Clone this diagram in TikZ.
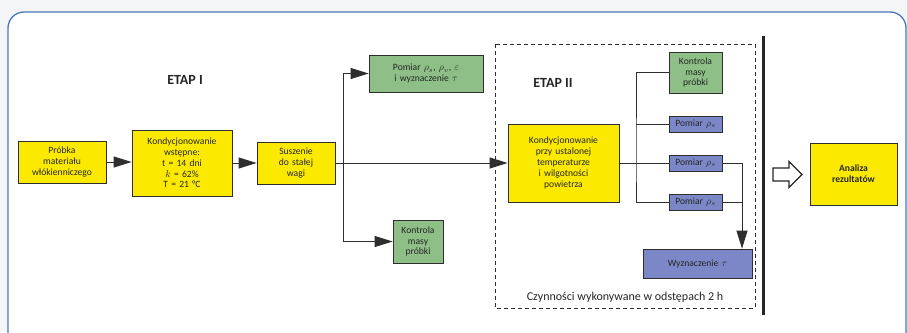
\documentclass[tikz,border=0pt]{standalone}
\usepackage{fontspec}
\setmainfont{Carlito}
\usetikzlibrary{arrows.meta}
\definecolor{ybox}{HTML}{FBEA00}
\definecolor{gbox}{HTML}{8DBF87}
\definecolor{bbox}{HTML}{7C87C8}
\definecolor{frameblue}{HTML}{4A78BC}
\definecolor{bggray}{HTML}{F3F5F6}
\definecolor{ln}{HTML}{2E2E2E}
\tikzset{
  box/.style={draw=ln, line width=0.8pt, inner sep=0pt, align=center, text=black!85,
    font=\fontsize{9.6}{10.8}\selectfont},
  ybx/.style={box, fill=ybox},
  gbx/.style={box, fill=gbox},
  bbx/.style={box, fill=bbox},
  conn/.style={draw=ln, line width=0.9pt},
  arr/.style={conn, -{Triangle[length=18pt,width=11pt]}},
  etap/.style={font=\bfseries\fontsize{14}{16}\selectfont, text=black!85},
}
\begin{document}
\begin{tikzpicture}[x=1pt,y=-1pt]
\useasboundingbox (0,0) rectangle (907,332);
\fill[bggray] (0,0) rectangle (907,332);
\draw[frameblue, line width=1.3pt, fill=white, rounded corners=16pt] (8,12) rectangle (906,350);

% dashed stage II frame and thick separator
\draw[ln, dashed, dash pattern=on 4pt off 3pt, line width=0.9pt] (495,44) rectangle (755,308);
\draw[black!85, line width=2.6pt] (763.5,36) -- (763.5,315);

% labels
\node[etap] (e1) at (185,80) {ETAP I};
\node[etap] (e2) at (553,83) {ETAP II};
\node[font=\fontsize{12}{14}\selectfont, text=black!85] (cz) at (625,297) {Czynności wykonywane w odstępach 2 h};

% stage I
\node[ybx, minimum width=88pt, minimum height=42pt, text width=86pt] (p1) at (62,162) {Próbka\\materiału\\włókienniczego};
\node[ybx, minimum width=100pt, minimum height=66pt, text width=98pt] (k1) at (182,163) {Kondycjonowanie\\wstępne:\\t = 14 dni\\$k$ = 62\%\\T = 21 °C};
\node[ybx, minimum width=78pt, minimum height=42pt, text width=76pt] (s1) at (296,163) {Suszenie\\do stałej\\wagi};
\node[gbx, minimum width=114pt, minimum height=37pt, text width=112pt] (g1) at (426,73.5) {Pomiar $\rho_s$, $\rho_v$, $\varepsilon$\\i wyznaczenie $\tau$};
\node[gbx, minimum width=50pt, minimum height=43pt, text width=48pt] (g2) at (418,241.5) {Kontrola\\masy\\próbki};

% stage II
\node[ybx, minimum width=111pt, minimum height=78pt, text width=109pt] (y2) at (563.5,163) {Kondycjonowanie\\przy ustalonej\\temperaturze\\i wilgotności\\powietrza};
\node[gbx, minimum width=53pt, minimum height=41pt, text width=51pt] (g3) at (695.5,72.5) {Kontrola\\masy\\próbki};
\node[bbx, minimum width=53pt, minimum height=16pt, text width=51pt] (b1) at (695.5,124) {Pomiar $\rho_s$};
\node[bbx, minimum width=53pt, minimum height=16pt, text width=51pt] (b2) at (695.5,163) {Pomiar $\rho_s$};
\node[bbx, minimum width=53pt, minimum height=16pt, text width=51pt] (b3) at (695.5,202) {Pomiar $\rho_s$};
\node[bbx, minimum width=109pt, minimum height=29pt, text width=107pt] (w) at (697.5,263.5) {Wyznaczenie $\tau$};

\node[ybx, minimum width=87pt, minimum height=62pt, text width=85pt, font=\bfseries\fontsize{9.6}{11}\selectfont] (a) at (853.5,174) {Analiza\\rezultatów};

% connectors stage I
\draw[arr] (p1.east) -- (k1.west |- p1.east);
\draw[arr] (k1.east) -- (s1.west);
\coordinate (br1) at (343,163);
\draw[arr] (s1.east) -- (y2.west);
\draw[arr] (br1) |- (g1.west);
\draw[arr] (br1) |- (g2.west);

% connectors stage II
\coordinate (br2) at (636,163);
\draw[conn] (y2.east) -- (b2.west);
\draw[conn] (g3.west) -| (br2) |- (b3.west);
\draw[conn] (br2 |- b1.west) -- (b1.west);
\coordinate (rj) at (742,163);
\draw[conn] (b2.east) -- (rj);
\draw[conn] (b3.east) -- (rj |- b3.east);
\draw[arr] (rj) -- (rj |- w.north);

% hollow block arrow
\draw[black!85, line width=1.2pt, fill=white, line join=miter]
  (773,168) -- (789,168) -- (789,161.5) -- (802,174.5) -- (789,187.5) -- (789,181) -- (773,181) -- cycle;
\end{tikzpicture}
\end{document}
